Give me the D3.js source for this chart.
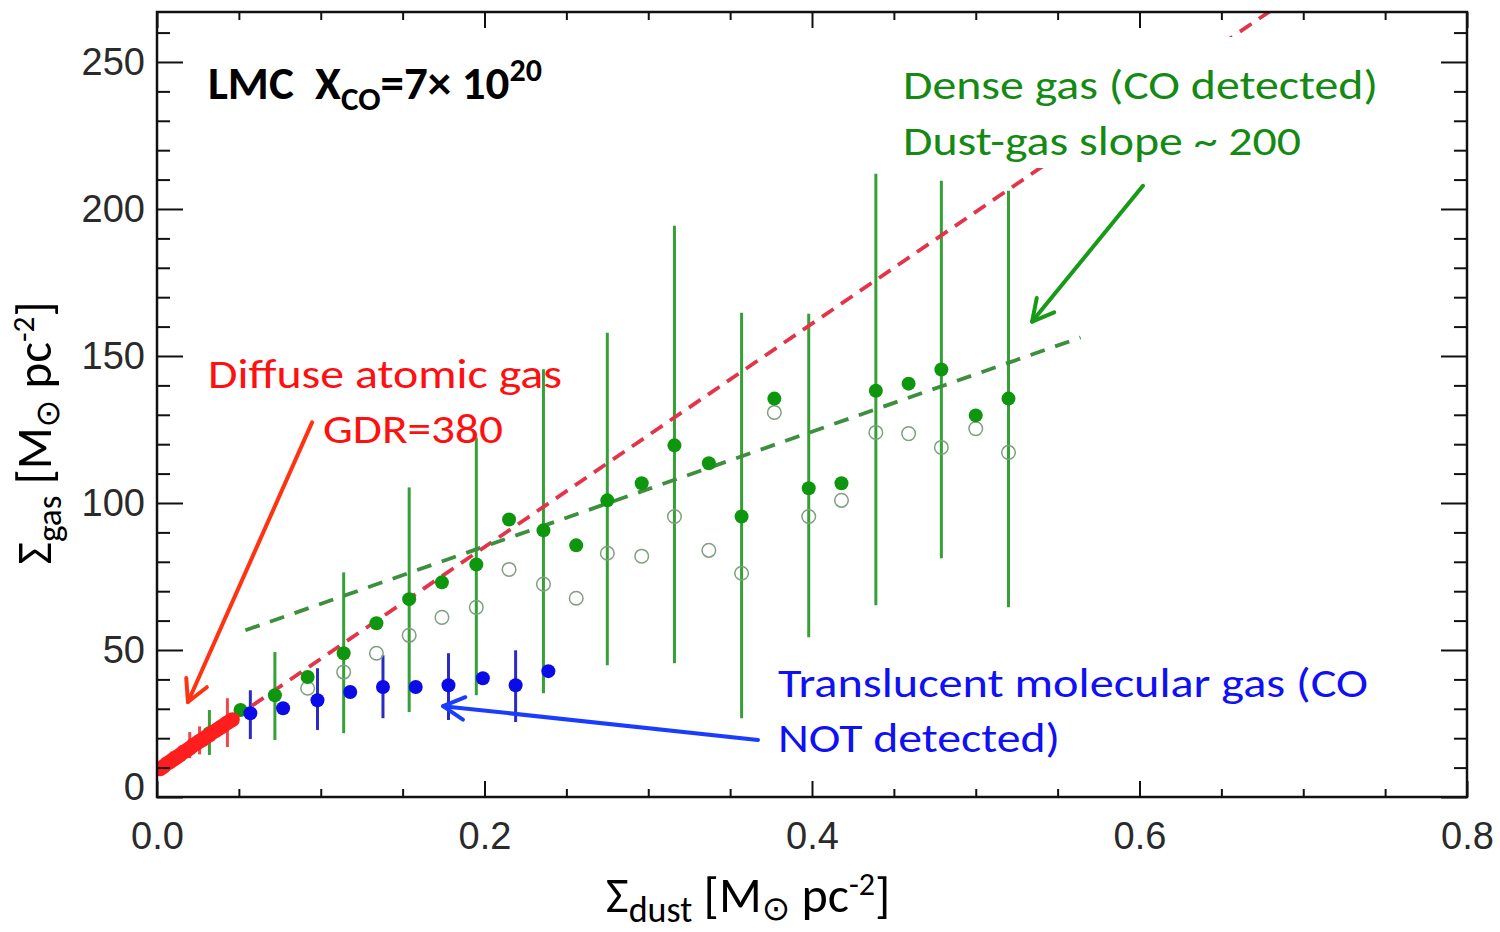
<!DOCTYPE html>
<html>
<head>
<meta charset="utf-8">
<script src="https://cdn.jsdelivr.net/npm/d3@7"></script>
<style>
  html, body { margin: 0; padding: 0; background: #fff; }
  svg { display: block; }
  text { white-space: pre; }
</style>
</head>
<body>
<script>
// ---------------- data ----------------
const xTickValues = [0.0, 0.2, 0.4, 0.6, 0.8];
const xTickLabels = ["0.0", "0.2", "0.4", "0.6", "0.8"];
const yTickValues = [0, 50, 100, 150, 200, 250];
const yTickLabels = ["0", "50", "100", "150", "200", "250"];

// Diffuse atomic gas (red)
const redX = [0.002,0.004,0.006,0.008,0.010,0.012,0.014,0.016,0.018,0.020,0.022,0.024,0.026,0.028,0.030,0.032,0.034,0.036,0.038,0.040,0.042,0.044,0.046];
const redY = [9.6,10.4,11.3,12.0,12.8,13.5,14.3,15.2,15.8,16.6,17.5,18.2,19.0,19.6,20.4,21.1,22.0,22.6,23.4,24.1,24.9,25.6,26.3];
const redErrX  = [0.009, 0.020, 0.026, 0.043];
const redErrLo = [10.5, 13.2, 14.5, 17.0];
const redErrHi = [15.5, 22.1, 24.0, 33.6];

// Dense gas, CO detected (green): filled and open symbols
const greenX = [0.032,0.051,0.072,0.092,0.114,0.134,0.154,0.174,0.195,0.215,0.236,0.256,0.275,0.296,0.316,0.337,0.357,0.377,0.398,0.418,0.439,0.459,0.479,0.500,0.520];
const greenFilledY = [21.7,29.6,34.6,40.8,48.9,59.1,67.3,73.0,79.1,94.4,90.7,85.6,100.9,106.7,119.6,113.5,95.4,135.5,105.0,106.7,138.2,140.6,145.4,129.8,135.5];
const greenOpenY = [null,null,null,37.0,42.5,48.9,55.0,61.1,64.5,77.4,72.4,67.6,82.9,81.9,95.4,83.9,76.1,130.8,95.4,100.9,124.0,123.6,118.9,125.3,117.2];
const greenErrX  = [0.032,0.072,0.114,0.154,0.195,0.236,0.275,0.316,0.357,0.398,0.439,0.479,0.520];
const greenErrLo = [14.3,19.4,21.7,28.9,34.6,35.3,44.8,45.5,26.8,54.3,65.2,81.2,64.5];
const greenErrHi = [29.6,49.3,76.4,105.3,122.3,145.5,157.9,194.3,164.7,164.4,212.0,209.6,206.2];

// Translucent molecular gas, CO not detected (blue)
const blueX = [0.057,0.077,0.098,0.118,0.138,0.158,0.178,0.199,0.219,0.239];
const blueY = [28.5,30.2,32.9,35.7,37.4,37.4,38.0,40.4,38.0,42.8];
const blueErrX  = [0.057,0.098,0.138,0.178,0.219];
const blueErrLo = [19.7,22.8,26.8,26.2,25.5];
const blueErrHi = [36.3,43.8,48.2,48.9,49.9];

// Fitted lines
const redLineX = [0.0, 0.70];      // GDR = 380
const redLineY = [9.0, 275.0];
const greenLineX = [0.054, 0.564]; // slope ~ 200
const greenLineY = [56.7, 156.3];

// Annotation arrows (data coordinates): tail -> tip
const arrowTailX = [0.0947, 0.6021, 0.3670];
const arrowTailY = [127.4, 207.9, 19.4];
const arrowTipX  = [0.0189, 0.5344, 0.1747];
const arrowTipY  = [32.3, 161.7, 30.9];
const arrowColors = ["#ff3312", "#179a17", "#1a3cff"];

// ---------------- layout ----------------
const W = 1500, H = 932;
const L = 157, R = 1467, T = 12, B = 797;
const x = d3.scaleLinear().domain([0, 0.8]).range([L, R]);
const y = d3.scaleLinear().domain([0, 267]).range([B, T]);

const svg = d3.select("body").append("svg").attr("width", W).attr("height", H);
svg.append("rect").attr("width", W).attr("height", H).attr("fill", "#fff");

svg.append("defs").append("clipPath").attr("id", "plotclip")
  .append("rect").attr("x", L).attr("y", T).attr("width", R - L).attr("height", B - T);

const plot = svg.append("g").attr("clip-path", "url(#plotclip)");

const xMinor = d3.range(0, 0.8001, 0.05).filter(v => Math.abs(v / 0.2 - Math.round(v / 0.2)) > 1e-6);
const yMinor = d3.range(0, 267, 10).filter(v => v % 50 !== 0);

function styleAxis(g) {
  g.select(".domain").remove();
  g.selectAll(".tick line").attr("stroke", "#111").attr("stroke-width", 2);
  g.selectAll(".tick text").attr("fill", "#2a2a2a")
    .attr("font-family", "'Liberation Sans', Arial, sans-serif").attr("font-size", 38);
}

// bottom
svg.append("g").attr("transform", `translate(0,${B})`)
  .call(d3.axisBottom(x).tickValues(xTickValues).tickSize(-16).tickPadding(25)
    .tickFormat((d, i) => xTickLabels[i])).call(styleAxis);
svg.append("g").attr("transform", `translate(0,${B})`)
  .call(d3.axisBottom(x).tickValues(xMinor).tickSize(-8).tickFormat("")).call(styleAxis);
// top
svg.append("g").attr("transform", `translate(0,${T})`)
  .call(d3.axisTop(x).tickValues(xTickValues).tickSize(-16).tickFormat("")).call(styleAxis);
svg.append("g").attr("transform", `translate(0,${T})`)
  .call(d3.axisTop(x).tickValues(xMinor).tickSize(-8).tickFormat("")).call(styleAxis);
// left
const leftAx = svg.append("g").attr("transform", `translate(${L},0)`)
  .call(d3.axisLeft(y).tickValues(yTickValues).tickSize(-26).tickPadding(12)
    .tickFormat((d, i) => yTickLabels[i])).call(styleAxis);
leftAx.selectAll(".tick text").filter(d => d === 0).attr("transform", "translate(0,-10)");
svg.append("g").attr("transform", `translate(${L},0)`)
  .call(d3.axisLeft(y).tickValues(yMinor).tickSize(-13).tickFormat("")).call(styleAxis);
// right
svg.append("g").attr("transform", `translate(${R},0)`)
  .call(d3.axisRight(y).tickValues(yTickValues).tickSize(-26).tickFormat("")).call(styleAxis);
svg.append("g").attr("transform", `translate(${R},0)`)
  .call(d3.axisRight(y).tickValues(yMinor).tickSize(-13).tickFormat("")).call(styleAxis);

// ---------------- marks ----------------
function errBars(xs, lo, hi, color) {
  plot.append("g").selectAll("line").data(xs).join("line")
    .attr("x1", d => x(d)).attr("x2", d => x(d))
    .attr("y1", (d, i) => y(lo[i])).attr("y2", (d, i) => y(hi[i]))
    .attr("stroke", color).attr("stroke-width", 3);
}
errBars(greenErrX, greenErrLo, greenErrHi, "#35a035");
errBars(blueErrX, blueErrLo, blueErrHi, "#2a2ac4");
errBars(redErrX, redErrLo, redErrHi, "#f04848");

// open green circles
plot.append("g").selectAll("circle")
  .data(greenX.map((v, i) => [v, greenOpenY[i]]).filter(d => d[1] !== null))
  .join("circle")
  .attr("cx", d => x(d[0])).attr("cy", d => y(d[1])).attr("r", 6.8)
  .attr("fill", "none").attr("stroke", "#7f9f7f").attr("stroke-width", 1.5);

// dashed lines
const line = d3.line().x(d => x(d[0])).y(d => y(d[1]));
plot.append("path").datum(redLineX.map((v, i) => [v, redLineY[i]]))
  .attr("d", line).attr("fill", "none").attr("stroke", "#e3344a")
  .attr("stroke-width", 3.8).attr("stroke-dasharray", "14,9");
plot.append("path").datum(greenLineX.map((v, i) => [v, greenLineY[i]]))
  .attr("d", line).attr("fill", "none").attr("stroke", "#3d8f3d")
  .attr("stroke-width", 3.8).attr("stroke-dasharray", "15,11");

// filled dots
function dots(xs, ys, color, r) {
  plot.append("g").selectAll("circle").data(xs).join("circle")
    .attr("cx", d => x(d)).attr("cy", (d, i) => y(ys[i])).attr("r", r)
    .attr("fill", color);
}
dots(greenX, greenFilledY, "#0f960f", 7);
dots(blueX, blueY, "#0b0be8", 7);
dots(redX, redY, "#ff1e1e", 7.5);

// frame
svg.append("rect").attr("x", L).attr("y", T).attr("width", R - L).attr("height", B - T)
  .attr("fill", "none").attr("stroke", "#111").attr("stroke-width", 2.5);

// ---------------- arrows ----------------
arrowTipX.forEach((tx, i) => {
  const x1 = x(arrowTailX[i]), y1 = y(arrowTailY[i]);
  const x2 = x(tx), y2 = y(arrowTipY[i]);
  const ang = Math.atan2(y1 - y2, x1 - x2);
  const len = 24, spread = 28 * Math.PI / 180;
  const g = svg.append("g").attr("stroke", arrowColors[i]).attr("stroke-width", 4)
    .attr("fill", "none").attr("stroke-linecap", "round").attr("stroke-linejoin", "round");
  g.append("line").attr("x1", x1).attr("y1", y1).attr("x2", x2).attr("y2", y2);
  g.append("path").attr("d",
    `M${x2 + len * Math.cos(ang + spread)},${y2 + len * Math.sin(ang + spread)}` +
    `L${x2},${y2}` +
    `L${x2 + len * Math.cos(ang - spread)},${y2 + len * Math.sin(ang - spread)}`);
});

// ---------------- text ----------------
const FONT = "Carlito, Calibri, Lato, 'Noto Sans', sans-serif";
// white box behind the green annotation (hides the dashed line like the reference)
svg.append("rect").attr("x", 893).attr("y", 37).attr("width", 497).attr("height", 131).attr("fill", "#fff");

function label(txt, px, py, color, width) {
  svg.append("text").attr("x", px).attr("y", py).attr("fill", color)
    .attr("font-family", FONT).attr("font-size", 42)
    .attr("textLength", width).attr("lengthAdjust", "spacingAndGlyphs").text(txt);
}
label("Dense gas (CO detected)", 903, 99, "#148a14", 475);
label("Dust-gas slope ~ 200", 903, 155, "#148a14", 398);
label("Diffuse atomic gas", 208, 388, "#ff1010", 354);
label("GDR=380", 323, 443, "#ff1010", 180);
label("Translucent molecular gas (CO", 778, 697, "#1010f5", 590);
label("NOT detected)", 778, 752, "#1010f5", 282);

// LMC title
const t = svg.append("text").attr("x", 208).attr("y", 99).attr("fill", "#000")
  .attr("font-family", FONT).attr("font-weight", "bold").attr("font-size", 47);
t.append("tspan").text("LMC  X");
t.append("tspan").attr("font-size", 33).attr("dy", 11).text("CO");
t.append("tspan").attr("font-size", 47).attr("dy", -11).text("=7× 10");
t.append("tspan").attr("font-size", 32).attr("dy", -18).text("20");

// axis titles
function axisTitle(g, sub, fs) {
  const k = fs / 50;
  const tx = g.append("text").attr("text-anchor", "middle").attr("fill", "#000")
    .attr("font-family", FONT).attr("font-size", fs);
  tx.append("tspan").text("Σ");
  tx.append("tspan").attr("font-size", 36 * k).attr("dy", 10 * k).text(sub);
  tx.append("tspan").attr("font-size", fs).attr("dy", -10 * k).text(" [M");
  tx.append("tspan").attr("font-size", 34 * k).attr("font-family", "'DejaVu Sans', sans-serif").attr("dy", 8 * k).text("⊙");
  tx.append("tspan").attr("font-size", fs).attr("dy", -8 * k).text(" pc");
  tx.append("tspan").attr("font-size", 32 * k).attr("dy", -17 * k).text("-2");
  tx.append("tspan").attr("font-size", fs).attr("dy", 17 * k).text("]");
}
axisTitle(svg.append("g").attr("transform", "translate(748,912)"), "dust", 50);
axisTitle(svg.append("g").attr("transform", "translate(51,433) rotate(-90)"), "gas", 49);
</script>
</body>
</html>
